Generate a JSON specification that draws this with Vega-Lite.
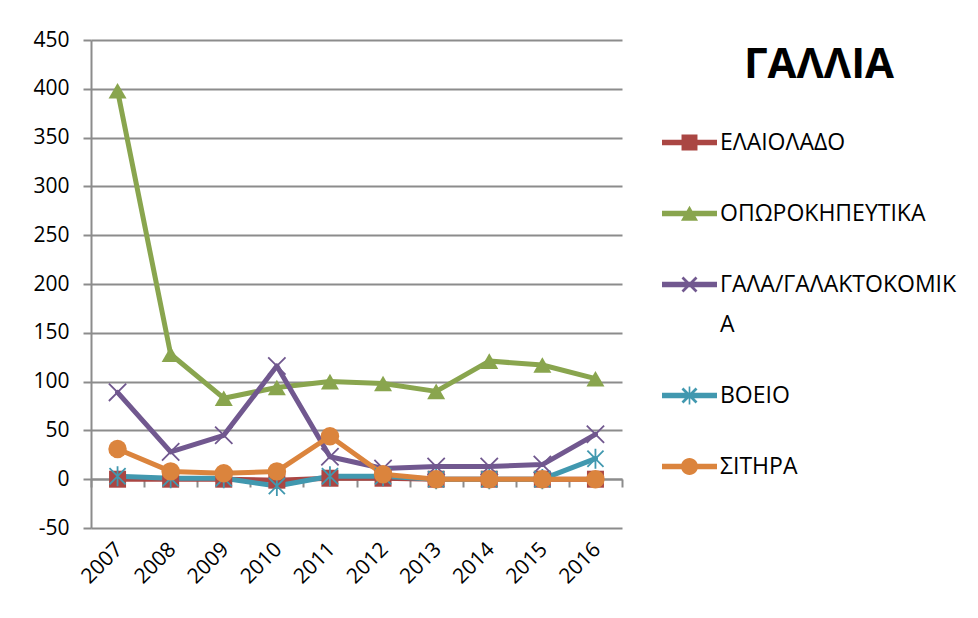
{
  "$schema": "https://vega.github.io/schema/vega-lite/v6.json",
  "width": 531,
  "height": 488,
  "autosize": {"type": "none"},
  "padding": {"left": 91, "top": 40, "right": 356, "bottom": 90},
  "background": "white",
  "config": {"view": {"stroke": null}, "font": "Open Sans"},
  "data": {
    "values": [
      {"year": "2007", "series": "ΕΛΑΙΟΛΑΔΟ", "value": 0},
      {"year": "2008", "series": "ΕΛΑΙΟΛΑΔΟ", "value": 0},
      {"year": "2009", "series": "ΕΛΑΙΟΛΑΔΟ", "value": 0},
      {"year": "2010", "series": "ΕΛΑΙΟΛΑΔΟ", "value": -1},
      {"year": "2011", "series": "ΕΛΑΙΟΛΑΔΟ", "value": 1},
      {"year": "2012", "series": "ΕΛΑΙΟΛΑΔΟ", "value": 1},
      {"year": "2013", "series": "ΕΛΑΙΟΛΑΔΟ", "value": 0},
      {"year": "2014", "series": "ΕΛΑΙΟΛΑΔΟ", "value": 0},
      {"year": "2015", "series": "ΕΛΑΙΟΛΑΔΟ", "value": 0},
      {"year": "2016", "series": "ΕΛΑΙΟΛΑΔΟ", "value": 0},
      {"year": "2007", "series": "ΟΠΩΡΟΚΗΠΕΥΤΙΚΑ", "value": 398},
      {"year": "2008", "series": "ΟΠΩΡΟΚΗΠΕΥΤΙΚΑ", "value": 128},
      {"year": "2009", "series": "ΟΠΩΡΟΚΗΠΕΥΤΙΚΑ", "value": 83},
      {"year": "2010", "series": "ΟΠΩΡΟΚΗΠΕΥΤΙΚΑ", "value": 94},
      {"year": "2011", "series": "ΟΠΩΡΟΚΗΠΕΥΤΙΚΑ", "value": 100},
      {"year": "2012", "series": "ΟΠΩΡΟΚΗΠΕΥΤΙΚΑ", "value": 98},
      {"year": "2013", "series": "ΟΠΩΡΟΚΗΠΕΥΤΙΚΑ", "value": 90},
      {"year": "2014", "series": "ΟΠΩΡΟΚΗΠΕΥΤΙΚΑ", "value": 121},
      {"year": "2015", "series": "ΟΠΩΡΟΚΗΠΕΥΤΙΚΑ", "value": 117},
      {"year": "2016", "series": "ΟΠΩΡΟΚΗΠΕΥΤΙΚΑ", "value": 103},
      {"year": "2007", "series": "ΓΑΛΑ/ΓΑΛΑΚΤΟΚΟΜΙΚΑ", "value": 89},
      {"year": "2008", "series": "ΓΑΛΑ/ΓΑΛΑΚΤΟΚΟΜΙΚΑ", "value": 28},
      {"year": "2009", "series": "ΓΑΛΑ/ΓΑΛΑΚΤΟΚΟΜΙΚΑ", "value": 45},
      {"year": "2010", "series": "ΓΑΛΑ/ΓΑΛΑΚΤΟΚΟΜΙΚΑ", "value": 116},
      {"year": "2011", "series": "ΓΑΛΑ/ΓΑΛΑΚΤΟΚΟΜΙΚΑ", "value": 23},
      {"year": "2012", "series": "ΓΑΛΑ/ΓΑΛΑΚΤΟΚΟΜΙΚΑ", "value": 11},
      {"year": "2013", "series": "ΓΑΛΑ/ΓΑΛΑΚΤΟΚΟΜΙΚΑ", "value": 13},
      {"year": "2014", "series": "ΓΑΛΑ/ΓΑΛΑΚΤΟΚΟΜΙΚΑ", "value": 13},
      {"year": "2015", "series": "ΓΑΛΑ/ΓΑΛΑΚΤΟΚΟΜΙΚΑ", "value": 15},
      {"year": "2016", "series": "ΓΑΛΑ/ΓΑΛΑΚΤΟΚΟΜΙΚΑ", "value": 46},
      {"year": "2007", "series": "ΒΟΕΙΟ", "value": 3},
      {"year": "2008", "series": "ΒΟΕΙΟ", "value": 1},
      {"year": "2009", "series": "ΒΟΕΙΟ", "value": 1},
      {"year": "2010", "series": "ΒΟΕΙΟ", "value": -7},
      {"year": "2011", "series": "ΒΟΕΙΟ", "value": 3},
      {"year": "2012", "series": "ΒΟΕΙΟ", "value": 3},
      {"year": "2013", "series": "ΒΟΕΙΟ", "value": 0},
      {"year": "2014", "series": "ΒΟΕΙΟ", "value": 0},
      {"year": "2015", "series": "ΒΟΕΙΟ", "value": 0},
      {"year": "2016", "series": "ΒΟΕΙΟ", "value": 21},
      {"year": "2007", "series": "ΣΙΤΗΡΑ", "value": 31},
      {"year": "2008", "series": "ΣΙΤΗΡΑ", "value": 8},
      {"year": "2009", "series": "ΣΙΤΗΡΑ", "value": 6},
      {"year": "2010", "series": "ΣΙΤΗΡΑ", "value": 8},
      {"year": "2011", "series": "ΣΙΤΗΡΑ", "value": 44},
      {"year": "2012", "series": "ΣΙΤΗΡΑ", "value": 5},
      {"year": "2013", "series": "ΣΙΤΗΡΑ", "value": 0},
      {"year": "2014", "series": "ΣΙΤΗΡΑ", "value": 0},
      {"year": "2015", "series": "ΣΙΤΗΡΑ", "value": 0},
      {"year": "2016", "series": "ΣΙΤΗΡΑ", "value": 0}
    ]
  },
  "encoding": {
    "y": {
      "field": "value",
      "type": "quantitative",
      "scale": {"domain": [-50, 450], "nice": false, "zero": false},
      "axis": {
        "title": null,
        "values": [-50, 0, 50, 100, 150, 200, 250, 300, 350, 400, 450],
        "labelExpr": "'' + datum.value",
        "labelFontSize": 21,
        "labelColor": "black",
        "labelPadding": 14,
        "tickSize": 8,
        "tickColor": "#8c8c8c",
        "tickWidth": 2,
        "domainColor": "#8c8c8c",
        "domainWidth": 2,
        "grid": true,
        "gridColor": "#8c8c8c",
        "gridWidth": 2
      }
    },
    "color": {
      "field": "series",
      "type": "nominal",
      "sort": null,
      "scale": {
        "domain": ["ΕΛΑΙΟΛΑΔΟ", "ΟΠΩΡΟΚΗΠΕΥΤΙΚΑ", "ΓΑΛΑ/ΓΑΛΑΚΤΟΚΟΜΙΚΑ", "ΒΟΕΙΟ", "ΣΙΤΗΡΑ"],
        "range": ["#AA4643", "#89A54E", "#71588F", "#4198AF", "#DB843D"]
      },
      "legend": null
    }
  },
  "layer": [
    {
      "mark": {"type": "line", "strokeWidth": 5, "strokeJoin": "round", "strokeCap": "round"},
      "encoding": {
        "x": {
          "field": "year",
          "type": "ordinal",
          "scale": {"type": "band", "paddingInner": 0, "paddingOuter": 0},
          "axis": {
            "orient": "bottom",
            "title": null,
            "labels": false,
            "grid": false,
            "domain": true,
            "domainColor": "#8c8c8c",
            "domainWidth": 2,
            "ticks": true,
            "tickBand": "extent",
            "tickSize": 8,
            "tickColor": "#8c8c8c",
            "tickWidth": 2,
            "offset": -49
          }
        },
        "color": {
          "field": "series",
          "type": "nominal",
          "sort": null,
          "scale": {
            "domain": ["ΕΛΑΙΟΛΑΔΟ", "ΟΠΩΡΟΚΗΠΕΥΤΙΚΑ", "ΓΑΛΑ/ΓΑΛΑΚΤΟΚΟΜΙΚΑ", "ΒΟΕΙΟ", "ΣΙΤΗΡΑ"],
            "range": ["#AA4643", "#89A54E", "#71588F", "#4198AF", "#DB843D"]
          },
          "legend": {
            "orient": "none",
            "legendX": 571,
            "legendY": 5,
            "title": "ΓΑΛΛΙΑ",
            "titleFontSize": 42,
            "titleFontWeight": "bold",
            "titleColor": "black",
            "titleAnchor": "middle",
            "titlePadding": 28,
            "labelFontSize": 23,
            "labelColor": "black",
            "labelOffset": 3,
            "labelLimit": 400,
            "symbolSize": 3025,
            "symbolType": "M-1,-0.1H1V0.1H-1Z",
            "rowPadding": 31,
            "labelExpr": "datum.label == 'ΓΑΛΑ/ΓΑΛΑΚΤΟΚΟΜΙΚΑ' ? ['ΓΑΛΑ/ΓΑΛΑΚΤΟΚΟΜΙΚ', 'Α'] : datum.label",
            "encode": {
              "title": {"update": {"dx": {"value": 10}}},
              "symbols": {
                "update": {
                  "shape": {"signal": "datum.value == 'ΕΛΑΙΟΛΑΔΟ' ? 'M-1,-0.1H1V0.1H-1Z M-0.29,-0.29H0.29V0.29H-0.29Z' : datum.value == 'ΟΠΩΡΟΚΗΠΕΥΤΙΚΑ' ? 'M-1,-0.1H1V0.1H-1Z M0,-0.28L0.31,0.26H-0.31Z' : datum.value == 'ΓΑΛΑ/ΓΑΛΑΚΤΟΚΟΜΙΚΑ' ? 'M-1,-0.1H1V0.1H-1Z M-0.29,-0.22L-0.22,-0.29L0.29,0.22L0.22,0.29Z M0.22,-0.29L0.29,-0.22L-0.22,0.29L-0.29,0.22Z' : datum.value == 'ΒΟΕΙΟ' ? 'M-1,-0.1H1V0.1H-1Z M-0.29,-0.22L-0.22,-0.29L0.29,0.22L0.22,0.29Z M0.22,-0.29L0.29,-0.22L-0.22,0.29L-0.29,0.22Z M-0.03,-0.33H0.03V0.33H-0.03Z' : 'M-1,-0.1H1V0.1H-1Z M-0.31,0A0.31,0.31 0 1,1 0.31,0A0.31,0.31 0 1,1 -0.31,0Z'"},
                  "fill": {"signal": "scale('color', datum.value)"},
                  "stroke": {"value": "transparent"},
                  "strokeWidth": {"value": 0},
                  "opacity": {"value": 1}
                }
              },
              "labels": {"update": {"lineHeight": {"value": 40}}}
            }
          }
        }
      }
    },
    {
      "transform": [{"filter": "datum.series == 'ΕΛΑΙΟΛΑΔΟ'"}],
      "mark": {"type": "point", "shape": "square", "filled": true, "size": 289, "opacity": 1},
      "encoding": {
        "x": {
          "field": "year",
          "type": "ordinal",
          "scale": {"type": "band", "paddingInner": 0, "paddingOuter": 0},
          "axis": {
            "orient": "bottom",
            "title": null,
            "grid": false,
            "domain": false,
            "ticks": false,
            "labelAngle": -45,
            "labelAlign": "right",
            "labelBaseline": "middle",
            "labelPadding": 18,
            "labelOffset": 2,
            "labelFontSize": 21,
            "labelColor": "black"
          }
        }
      }
    },
    {
      "transform": [{"filter": "datum.series == 'ΟΠΩΡΟΚΗΠΕΥΤΙΚΑ'"}],
      "mark": {"type": "point", "shape": "triangle-up", "filled": true, "size": 324, "opacity": 1},
      "encoding": {
        "x": {"field": "year", "type": "ordinal", "scale": {"type": "band", "paddingInner": 0, "paddingOuter": 0}, "axis": null}
      }
    },
    {
      "transform": [{"filter": "datum.series == 'ΓΑΛΑ/ΓΑΛΑΚΤΟΚΟΜΙΚΑ'"}],
      "mark": {"type": "point", "shape": "M-1,-1L1,1M1,-1L-1,1", "filled": false, "size": 300, "strokeWidth": 1.8, "opacity": 1},
      "encoding": {
        "x": {"field": "year", "type": "ordinal", "scale": {"type": "band", "paddingInner": 0, "paddingOuter": 0}, "axis": null}
      }
    },
    {
      "transform": [{"filter": "datum.series == 'ΒΟΕΙΟ'"}],
      "mark": {"type": "point", "shape": "M-1,-1L1,1M1,-1L-1,1M0,-1.25L0,1.25", "filled": false, "size": 260, "strokeWidth": 1.8, "opacity": 1},
      "encoding": {
        "x": {"field": "year", "type": "ordinal", "scale": {"type": "band", "paddingInner": 0, "paddingOuter": 0}, "axis": null}
      }
    },
    {
      "transform": [{"filter": "datum.series == 'ΣΙΤΗΡΑ'"}],
      "mark": {"type": "point", "shape": "circle", "filled": true, "size": 340, "opacity": 1},
      "encoding": {
        "x": {"field": "year", "type": "ordinal", "scale": {"type": "band", "paddingInner": 0, "paddingOuter": 0}, "axis": null}
      }
    }
  ],
  "resolve": {"axis": {"x": "independent"}}
}
